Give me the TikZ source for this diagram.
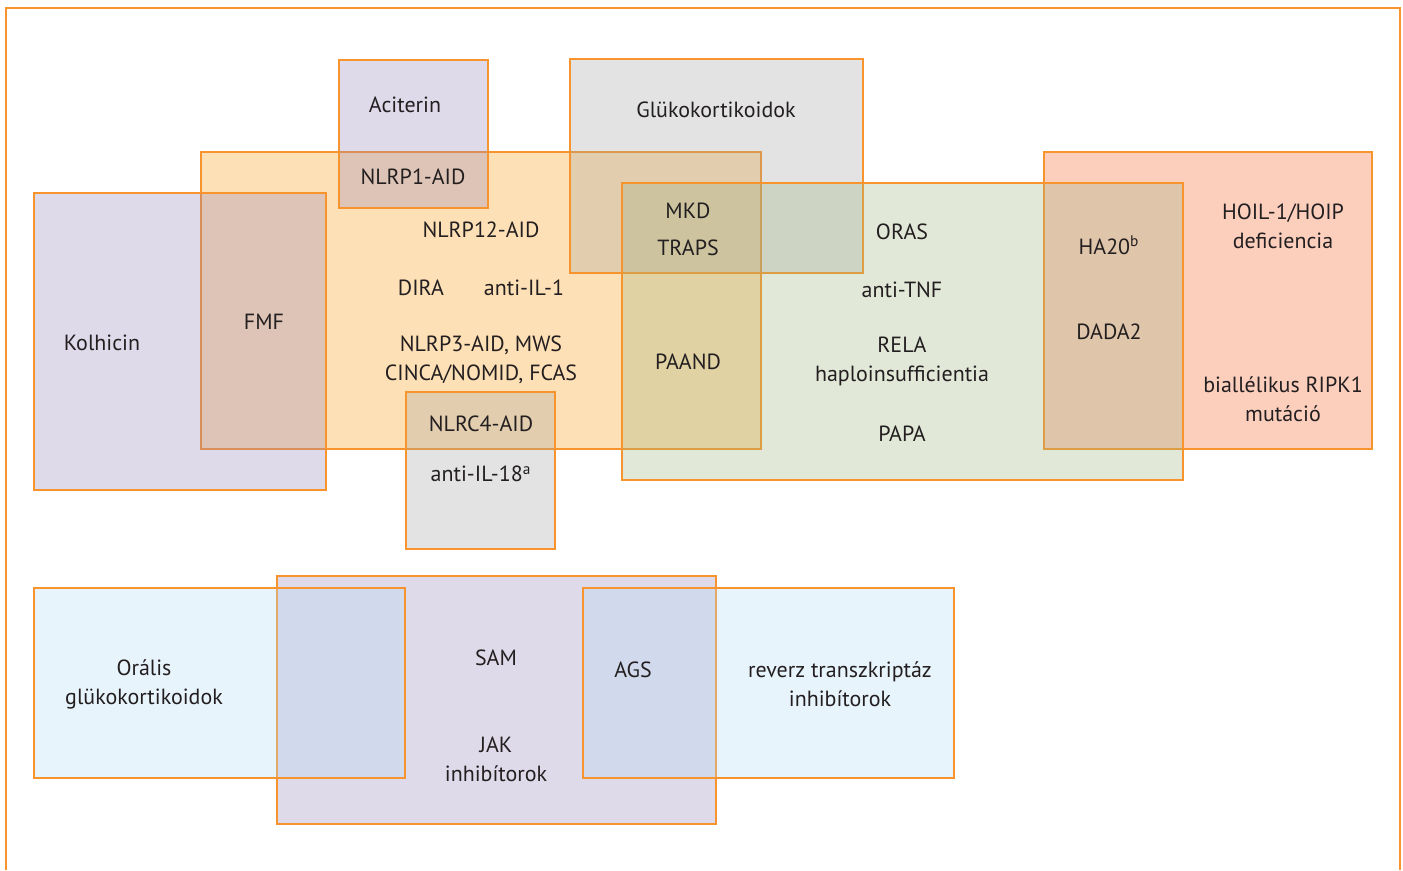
\documentclass[tikz,border=0pt]{standalone}
\usepackage{fontspec}
\setmainfont{PT Sans}
\usepackage{tikz}
\usetikzlibrary{positioning}
\definecolor{frameorange}{RGB}{247, 148, 45}
\definecolor{morange}{RGB}{250, 152, 12}
\definecolor{mlav}{RGB}{148, 132, 185}
\definecolor{mgray}{RGB}{162, 162, 162}
\definecolor{mgreen}{RGB}{158, 178, 122}
\definecolor{msalmon}{RGB}{245, 95, 38}
\definecolor{mblue}{RGB}{178, 218, 245}
\definecolor{mtext}{RGB}{35, 31, 32}
\tikzset{box/.style = {draw = frameorange, line width = 1.1pt, fill opacity = 0.3}}
\tikzset{lbl/.style = {text = mtext, align = center, inner sep = 0,
    font = \fontsize{12.5}{16.5}\selectfont}}

\begin{document}
\begin{tikzpicture}[x = 0.02cm, y = -0.02cm]
      \useasboundingbox (0, 0) rectangle (1403, 870);
      \draw [frameorange, line width = 1.1pt] (6, 870) -- (6, 8) -- (1400, 8) -- (1400, 870);

      % upper group
      \draw [box, fill = morange] (201, 152) rectangle (761, 449);
      \draw [box, fill = msalmon] (1044, 152) rectangle (1372, 449);
      \draw [box, fill = mlav] (339, 60) rectangle (488, 208);
      \draw [box, fill = mlav] (34, 193) rectangle (326, 490);
      \draw [box, fill = mgray] (570, 59) rectangle (863, 273);
      \draw [box, fill = mgray] (406, 392) rectangle (555, 549);
      \draw [box, fill = mgreen] (622, 183) rectangle (1183, 480);
      % lower group
      \draw [box, fill = mlav] (277, 576) rectangle (716, 824);
      \draw [box, fill = mblue] (34, 588) rectangle (405, 778);
      \draw [box, fill = mblue] (583, 588) rectangle (954, 778);

      \node [lbl] (aciterin) at (405, 105) {Aciterin};
      \node [lbl] (nlrp1) at (413, 177) {NLRP1-AID};
      \node [lbl] (gluko) at (716, 110) {Glükokortikoidok};
      \node [lbl] (nlrp12) at (481, 230) {NLRP12-AID};
      \node [lbl] (dira) at (421, 288) {DIRA};
      \node [lbl] (antiil1) at (524, 288) {anti-IL-1};
      \node [lbl] (nlrp3) at (481, 360) {NLRP3-AID, MWS\\CINCA/NOMID, FCAS};
      \node [lbl] (nlrc4) at (481, 424) {NLRC4-AID};
      \node [lbl] (antiil18) at (481, 474) {anti-IL-18\textsuperscript{a}};
      \node [lbl] (kolhicin) at (102, 343) {Kolhicin};
      \node [lbl] (fmf) at (264, 322) {FMF};
      \node [lbl] (mkd) at (688, 229.5) {MKD\\[0.16cm]TRAPS};
      \node [lbl] (paand) at (688, 362) {PAAND};
      \node [lbl] (oras) at (902, 232) {ORAS};
      \node [lbl] (antitnf) at (902, 290) {anti-TNF};
      \node [lbl] (rela) at (902, 361.5) {RELA\\haploinsufficientia};
      \node [lbl] (papa) at (902, 434) {PAPA};
      \node [lbl] (ha20) at (1109, 245) {HA20\textsuperscript{b}};
      \node [lbl] (dada2) at (1109, 332) {DADA2};
      \node [lbl] (hoil) at (1283, 226.5) {HOIL-1/HOIP\\deficiencia};
      \node [lbl] (ripk1) at (1283, 399) {biallélikus RIPK1\\mutáció};

      \node [lbl] (oralis) at (144, 684.5) {Orális\\glükokortikoidok};
      \node [lbl] (sam) at (496, 658) {SAM};
      \node [lbl] (jak) at (496, 759) {JAK\\inhibítorok};
      \node [lbl] (ags) at (633, 670) {AGS};
      \node [lbl] (reverz) at (840, 684.5) {reverz transzkriptáz\\inhibítorok};
    \end{tikzpicture}
\end{document}
